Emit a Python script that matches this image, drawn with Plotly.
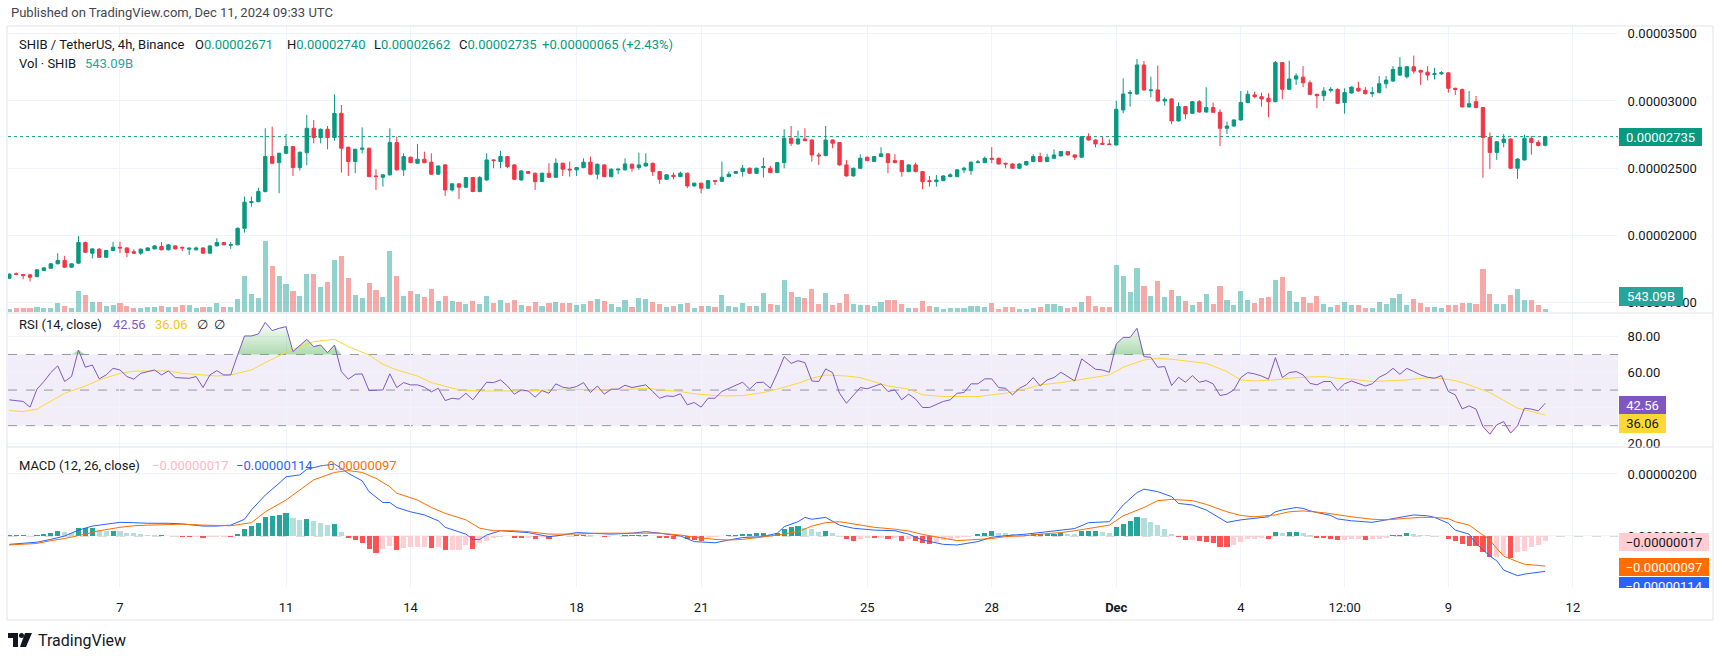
import numpy as np
import pandas as pd
import plotly.graph_objects as go

W, H = 1721, 656
U = 1e-8                     # prices / MACD values below are in units of 1e-8 USDT
FONT = "Roboto"

# ---------------- data (4h candles, SHIB/USDT) ----------------
candle_start = "2024-11-04 08:00"

opens = [
    1683,1716,1710,1708,1695,1740,1757,1790,1815,1765,
    1795,1948,1869,1899,1839,1889,1913,1908,1880,1869,
    1889,1901,1918,1894,1923,1913,1899,1894,1908,1869,
    1923,1948,1928,1931,2054,2245,2252,2327,2587,2542,
    2611,2661,2505,2616,2797,2728,2790,2728,2908,2656,
    2550,2641,2649,2443,2433,2451,2691,2488,2582,2537,
    2567,2545,2456,2525,2339,2384,2359,2431,2327,2413,
    2562,2550,2587,2525,2413,2475,2463,2401,2463,2433,
    2537,2493,2488,2505,2545,2456,2525,2438,2488,2488,
    2530,2505,2517,2537,2475,2418,2448,2438,2463,2369,
    2389,2352,2408,2403,2438,2463,2475,2500,2463,2505,
    2500,2468,2542,2723,2681,2718,2710,2599,2594,2710,
    2691,2525,2443,2500,2582,2550,2587,2607,2557,2557,
    2475,2525,2475,2408,2401,2408,2438,2438,2488,2483,
    2542,2542,2574,2574,2537,2532,2500,2525,2550,2587,
    2550,2574,2592,2624,2599,2582,2735,2710,2686,2681,
    2673,2933,3057,3052,3267,3077,3082,3000,3015,2852,
    2958,2908,2995,2918,2951,2916,2797,2814,2859,2988,
    3045,3032,3020,2995,3285,3087,3163,3177,3135,3049,
    3039,3079,3086,2988,3059,3094,3079,3054,3062,3128,
    3148,3192,3180,3254,3227,3214,3197,3202,3209,3094,
    3086,2956,2995,2951,2729,2618,2692,2717,2500,2562,
    2722,2692,2671]

highs = [
    1720,1725,1715,1715,1750,1765,1795,1870,1849,1795,
    1997,1955,1906,1906,1893,1953,1955,1912,1898,1903,
    1913,1930,1951,1936,1928,1916,1911,1918,1912,1927,
    1980,1953,1953,2060,2290,2290,2356,2797,2809,2616,
    2755,2666,2624,2896,2858,2795,2814,3049,2970,2660,
    2645,2804,2653,2492,2455,2797,2735,2611,2586,2680,
    2623,2611,2522,2530,2389,2389,2436,2436,2443,2611,
    2567,2629,2592,2530,2485,2480,2468,2468,2537,2574,
    2542,2550,2510,2574,2587,2535,2530,2498,2498,2574,
    2535,2616,2611,2542,2480,2455,2468,2475,2468,2394,
    2394,2413,2413,2550,2475,2480,2525,2505,2505,2579,
    2517,2547,2790,2814,2780,2797,2715,2616,2814,2715,
    2695,2562,2505,2604,2587,2592,2656,2612,2604,2562,
    2530,2542,2480,2443,2450,2448,2463,2493,2512,2550,
    2562,2587,2656,2579,2542,2537,2537,2555,2604,2616,
    2607,2641,2629,2629,2604,2740,2760,2715,2735,2715,
    3002,3168,3082,3312,3297,3181,3262,3027,3020,2990,
    2963,3000,3007,3102,2988,2938,2847,2864,3074,3077,
    3069,3062,3057,3297,3290,3299,3205,3259,3153,3054,
    3103,3103,3094,3094,3108,3143,3103,3103,3185,3185,
    3259,3325,3259,3337,3232,3259,3246,3222,3214,3099,
    3091,3074,3037,2956,2766,2702,2754,2722,2574,2749,
    2741,2709,2740]

lows = [
    1678,1705,1676,1659,1690,1738,1755,1788,1760,1760,
    1790,1870,1831,1835,1835,1885,1869,1839,1865,1856,
    1885,1898,1890,1890,1897,1884,1856,1890,1865,1865,
    1920,1928,1901,1928,2022,2215,2248,2320,2532,2314,
    2606,2443,2483,2522,2685,2685,2641,2705,2468,2443,
    2463,2611,2433,2339,2364,2445,2483,2443,2537,2532,
    2537,2450,2450,2295,2327,2270,2354,2322,2322,2408,
    2500,2500,2500,2413,2408,2458,2339,2396,2428,2428,
    2443,2438,2443,2500,2450,2418,2433,2433,2456,2483,
    2475,2488,2512,2443,2384,2413,2418,2433,2352,2364,
    2314,2347,2376,2398,2433,2458,2438,2458,2458,2431,
    2463,2463,2500,2666,2676,2700,2550,2525,2590,2649,
    2520,2438,2438,2495,2552,2545,2582,2463,2537,2438,
    2470,2470,2344,2364,2364,2403,2433,2433,2463,2451,
    2537,2537,2537,2527,2500,2495,2495,2520,2545,2545,
    2545,2570,2587,2594,2562,2577,2705,2656,2675,2672,
    2668,2908,2958,3047,3077,3027,2995,2965,2827,2847,
    2864,2903,2913,2913,2911,2666,2755,2809,2854,2983,
    3020,2958,2879,2990,3012,3082,3119,3103,3044,2946,
    3000,3062,2978,2906,3054,3069,3049,3030,3057,3094,
    3143,3187,3167,3202,3118,3153,3160,3192,3062,3044,
    2951,2951,2946,2429,2495,2562,2655,2495,2421,2557,
    2601,2662,2662]

closes = [
    1713,1711,1703,1690,1745,1760,1790,1815,1765,1790,
    1948,1876,1901,1839,1889,1913,1908,1874,1869,1899,
    1908,1923,1894,1931,1901,1908,1906,1908,1869,1923,
    1948,1931,1933,2054,2248,2252,2327,2587,2537,2611,
    2661,2505,2619,2797,2728,2790,2728,2908,2649,2550,
    2641,2649,2438,2438,2451,2691,2488,2587,2542,2567,
    2542,2456,2517,2339,2384,2359,2431,2327,2431,2562,
    2557,2587,2512,2418,2480,2463,2401,2463,2433,2537,
    2493,2488,2505,2545,2456,2530,2438,2493,2493,2532,
    2500,2525,2537,2475,2418,2451,2438,2463,2369,2389,
    2352,2408,2403,2433,2456,2475,2500,2463,2500,2512,
    2468,2542,2723,2686,2718,2705,2599,2592,2710,2686,
    2525,2443,2500,2574,2557,2587,2607,2542,2542,2475,
    2525,2475,2401,2401,2413,2443,2451,2488,2500,2545,
    2547,2574,2567,2532,2532,2500,2532,2550,2587,2550,
    2582,2599,2624,2599,2582,2735,2710,2681,2678,2676,
    2938,3052,3062,3267,3082,3082,3000,3012,2852,2958,
    2904,2995,2918,2951,2916,2797,2814,2859,2988,3050,
    3032,3015,2995,3285,3087,3163,3186,3135,3049,3039,
    3074,3086,2983,3062,3103,3074,3054,3062,3128,3155,
    3234,3251,3254,3222,3214,3192,3202,3209,3094,3086,
    2956,2980,2951,2729,2618,2697,2717,2500,2569,2722,
    2692,2670,2735]

volume_b = [   # billions of SHIB
    540,648,648,648,810,648,648,1512,972,648,
    3402,2808,1620,1620,972,1080,1512,972,648,648,
    810,810,972,810,810,1188,1188,648,810,810,
    1512,810,810,2160,5832,2970,2322,11340,7452,5832,
    4428,3402,2592,6048,6048,4050,4752,8370,8964,5508,
    2808,2322,4590,3510,2430,9828,5832,2592,3348,2970,
    2430,3672,1728,2592,1836,1620,1242,1782,1242,2592,
    1512,1890,1458,1890,1080,918,1620,972,1458,1620,
    1458,1458,1080,1242,1728,2052,1728,1242,810,1890,
    810,2268,2052,1620,1242,810,972,1242,1458,648,
    918,918,810,2700,918,810,1458,918,918,3078,
    1242,1080,5130,3240,2430,2268,3672,1242,3078,1080,
    1512,2916,1242,1080,1080,972,1620,1890,1890,1296,
    648,648,1728,918,756,540,648,648,648,918,
    918,810,1458,486,810,810,432,432,648,810,
    1242,1242,972,648,810,1620,2592,972,810,810,
    7560,5778,3186,7128,4212,2592,4968,2430,3510,2592,
    1728,1080,1620,2916,1296,4212,1944,1080,3348,1890,
    1404,2268,2430,5130,5616,3348,1620,2484,1512,2592,
    1242,810,1134,1674,1080,1080,594,702,1620,1242,
    2322,2970,1080,2160,1512,864,864,594,1134,1080,
    1512,1512,1350,6912,2862,1350,1350,2700,3780,1890,
    1890,1188,543.09]

rsi = [
    44.5,44.1,43.6,40.4,50.5,54.8,59.8,63.6,54.8,57.6,
    72.5,62.8,64.1,56.3,58.5,62.2,61.3,57.6,56.1,59.4,
    60.4,61.3,58.5,60.7,57.0,56.6,56.6,57.6,51.4,58.5,
    60.9,58.5,58.5,69.7,80.4,80.4,81.5,88.0,83.4,84.7,
    85.6,71.6,75.3,78.5,74.4,75.3,71.0,75.3,60.4,56.1,
    58.9,59.1,49.7,49.7,50.1,59.1,51.4,54.2,52.9,52.9,
    51.6,49.0,51.0,44.1,45.4,44.9,48.2,44.5,49.2,54.4,
    54.2,55.7,52.3,47.7,50.1,49.5,46.0,49.7,48.2,53.5,
    51.6,51.0,52.0,54.2,48.6,52.3,47.7,50.5,50.5,52.7,
    51.4,52.3,52.9,49.2,45.4,46.7,46.4,47.9,41.7,43.0,
    40.4,45.4,45.4,49.2,51.0,52.9,54.4,50.5,54.2,54.4,
    51.0,59.4,68.8,65.0,66.5,65.4,55.1,54.8,61.9,59.8,
    48.2,42.6,46.7,51.4,50.7,52.3,53.5,49.2,50.1,44.5,
    47.7,44.9,40.2,40.2,41.7,43.6,44.5,48.2,48.6,53.5,
    53.5,56.3,56.3,51.4,51.0,47.3,51.0,52.9,57.0,52.3,
    55.7,57.0,60.0,57.6,55.1,67.5,64.5,61.7,61.3,60.0,
    75.9,79.6,79.6,84.7,68.8,68.4,62.8,63.2,52.5,57.2,
    54.4,58.1,54.4,55.3,53.5,46.9,47.7,50.1,57.0,59.8,
    59.1,57.9,56.1,68.2,57.0,59.8,60.4,58.5,53.8,52.9,
    54.8,54.8,49.7,53.5,55.1,53.8,52.3,53.5,57.2,59.1,
    62.2,58.9,62.2,60.4,58.5,57.2,56.6,58.1,49.2,47.3,
    39.4,41.1,39.3,29.5,25.2,30.5,32.3,25.8,29.9,39.8,
    39.3,38.3,42.56]

# RSI moving average, read at these candle indices
rsi_ma_idx = [0,2,4,6,8,11,13,16,18,20,23,25,28,30,32,35,37,40,42,44,47,49,52,54,56,59,61,
              63,65,68,70,75,80,85,90,92,94,97,99,102,104,106,109,111,114,116,118,121,123,
              125,127,130,132,135,137,140,142,144,147,149,152,154,156,159,161,164,166,168,171,
              173,176,178,180,183,185,187,190,192,194,197,199,202,204,206,209,211,214,216,218,222]
rsi_ma = [38.5,37.9,39.3,43.6,48.2,52.3,55.7,59.4,60.6,60.7,60.7,59.4,58.5,57.9,58.5,61.3,65.4,
          71.2,74.4,77.2,78.5,74.4,69.7,64.5,61.3,57.9,54.2,
          52.0,50.1,49.5,49.5,49.5,50.5,50.1,50.5,51.0,50.1,49.2,47.9,46.9,46.7,46.9,48.6,50.5,
          53.8,56.6,58.5,57.9,57.0,
          54.8,52.3,50.5,47.3,46.4,46.4,46.4,47.3,48.2,50.7,52.9,54.2,55.3,56.6,58.5,62.8,66.9,
          67.9,67.3,66.0,65.0,60.4,55.7,55.1,55.7,56.6,57.2,57.6,56.6,56.1,54.8,55.1,55.7,56.6,
          57.0,55.3,52.9,48.6,44.1,39.8,36.06]

# MACD line (x1e-8), read at these candle indices
macd_idx = [0,2,4,6,8,10,12,13,16,18,20,23,25,28,30,32,34,35,37,39,40,42,43,45,47,48,49,51,52,
            54,55,56,58,60,62,63,65,66,67,68,69,71,73,75,78,80,82,85,87,90,92,94,97,99,102,104,
            106,109,111,112,114,115,116,118,120,122,124,125,128,130,132,135,137,140,142,144,147,
            149,152,154,156,159,160,161,163,164,166,168,169,171,173,175,176,178,181,182,183,184,
            186,187,188,190,191,192,194,197,199,202,203,205,206,208,209,211,212,214,215,216,218,
            219,220,222]
macd_val = [-27,-24,-20,-11,0,19,32,35,44,43,41,41,39,32,32,35,54,84,132,170,191,197,215,226,232,
            218,202,178,143,108,108,92,78,68,49,28,14,6,-11,-11,3,17,14,11,-2,3,11,9,6,9,14,9,0,
            -18,-22,-13,-5,-2,9,30,46,60,54,60,35,25,22,19,17,6,-13,-27,-29,-18,-4,1,6,11,19,24,
            43,46,73,100,140,151,143,127,105,100,84,57,44,52,60,62,78,84,92,89,81,71,66,55,49,44,
            52,62,68,65,60,41,19,6,-24,-65,-80,-110,-128,-123,-120,-114]

# Signal line (x1e-8)
signal_idx = [0,4,6,8,11,13,16,18,20,23,25,28,30,32,35,37,40,42,44,47,49,51,53,55,56,59,61,63,66,
              68,70,73,75,78,80,82,85,87,90,92,94,97,99,102,104,106,109,111,114,116,118,120,122,
              124,125,128,130,132,135,137,140,142,144,147,149,152,154,156,159,161,164,166,168,171,
              173,176,178,180,183,185,187,190,192,194,197,199,202,204,206,208,209,211,212,214,215,
              216,218,219,222]
signal_val = [-29,-24,-15,-8,6,17,28,33,35,38,38,35,33,33,43,78,116,148,181,205,211,205,186,159,
              138,116,92,73,52,25,17,17,14,6,6,6,9,9,9,11,9,3,-4,-11,-13,-11,-4,3,14,32,43,46,39,
              32,28,22,16,5,-8,-15,-11,-8,-2,1,6,11,17,25,35,65,92,114,118,114,102,78,66,62,68,78,
              81,75,68,62,54,52,57,60,60,56,46,35,19,-13,-40,-65,-83,-91,-97]

hist = [   # MACD histogram (x1e-8), one per candle
    2,2,2,1,2,5,11,17,12,11,
    25,25,25,19,17,17,16,11,9,6,
    4,2,2,1,0,-2,-3,-3,-6,-3,
    -2,-2,-3,6,23,33,43,60,65,67,
    73,57,52,56,49,43,34,38,14,-5,
    -13,-22,-43,-56,-43,-32,-45,-40,-37,-37,
    -34,-40,-34,-45,-45,-45,-29,-43,-24,-15,
    -8,0,1,-5,-6,-6,-9,-4,-9,-2,
    0,1,2,3,2,1,-2,1,1,2,
    2,2,3,0,-5,-6,-9,-2,-11,-13,
    -16,-5,-3,-1,2,4,5,5,10,11,
    8,9,22,28,32,25,23,14,17,11,
    1,-11,-15,-11,-6,-8,-8,-11,-8,-16,
    -9,-15,-22,-26,-18,-13,-10,-5,-3,1,
    5,11,15,11,9,6,2,4,5,6,
    6,8,10,8,6,17,17,17,12,9,
    28,39,49,60,57,46,35,23,6,-4,
    -13,-13,-15,-20,-24,-34,-37,-29,-20,-11,
    -9,-6,-9,14,9,14,14,9,3,-5,
    -8,-9,-13,-13,-11,-11,-13,-11,-9,-6,
    3,4,9,6,4,2,1,0,-9,-15,
    -27,-31,-32,-51,-67,-67,-61,-72,-51,-47,
    -37,-29,-17]

x_tick_dates = ["2024-11-07", "2024-11-11", "2024-11-14", "2024-11-18", "2024-11-21",
                "2024-11-25", "2024-11-28", "2024-12-01", "2024-12-04", "2024-12-06 12:00",
                "2024-12-09", "2024-12-12"]
x_tick_text = ["7", "11", "14", "18", "21", "25", "28", "<b>Dec</b>", "4", "12:00", "9", "12"]
price_ticks = [1500, 2000, 2500, 3000, 3500]
rsi_ticks = [20, 40, 60, 80]
macd_ticks = [0, 200]

n = len(closes)
assert len(opens) == len(highs) == len(lows) == n == len(volume_b) == len(rsi) == len(hist)
assert len(rsi_ma_idx) == len(rsi_ma)
assert len(macd_idx) == len(macd_val)
assert len(signal_idx) == len(signal_val)

# ---------------- styling / geometry ----------------
GREEN, RED = "#089981", "#F23645"
GRID = "#F0F3FA"
TXT = "#131722"

def pxx(x):
    return x / W

def pxy(y):
    return 1 - y / H

XDOM = [pxx(8), pxx(1618)]
MAIN_DOM = [pxy(312), pxy(26)]
RSI_DOM = [pxy(447), pxy(313)]
MACD_DOM = [pxy(587), pxy(447)]

times = pd.date_range(candle_start, periods=n, freq="4h")
o = np.array(opens) * U
h_ = np.array(highs) * U
l_ = np.array(lows) * U
c = np.array(closes) * U
up = np.array(closes) >= np.array(opens)
bar_w = 4 * 3600 * 1000 * 0.74

fig = go.Figure()

# volume (base axis y2)
fig.add_trace(go.Bar(
    x=times, y=volume_b, xaxis="x2", yaxis="y2", width=bar_w,
    marker=dict(color=["rgba(38,166,154,0.5)" if u else "rgba(239,83,80,0.5)" for u in up],
                line=dict(width=0)),
    hoverinfo="skip"))

# candles (price axis y5 overlaying y2)
fig.add_trace(go.Candlestick(
    x=times, open=o, high=h_, low=l_, close=c, xaxis="x2", yaxis="y5",
    increasing=dict(line=dict(color=GREEN, width=1), fillcolor=GREEN),
    decreasing=dict(line=dict(color=RED, width=1), fillcolor=RED),
    whiskerwidth=0, hoverinfo="skip"))

# RSI overbought / oversold fills
rsi_arr = np.array(rsi)
fig.add_trace(go.Scatter(x=times, y=[70] * n, xaxis="x3", yaxis="y3", mode="lines",
                         line=dict(width=0), hoverinfo="skip"))
fig.add_trace(go.Scatter(x=times, y=np.maximum(rsi_arr, 70), xaxis="x3", yaxis="y3", mode="lines",
                         line=dict(width=0), fill="tonexty",
                         fillgradient=dict(type="vertical",
                                           colorscale=[[0, "rgba(76,175,80,0.45)"],
                                                       [1, "rgba(76,175,80,0.02)"]]),
                         hoverinfo="skip"))
fig.add_trace(go.Scatter(x=times, y=[30] * n, xaxis="x3", yaxis="y3", mode="lines",
                         line=dict(width=0), hoverinfo="skip"))
fig.add_trace(go.Scatter(x=times, y=np.minimum(rsi_arr, 30), xaxis="x3", yaxis="y3", mode="lines",
                         line=dict(width=0), fill="tonexty", fillcolor="rgba(242,54,69,0.12)",
                         hoverinfo="skip"))
# RSI MA and RSI
fig.add_trace(go.Scatter(x=[times[i] for i in rsi_ma_idx], y=rsi_ma, xaxis="x3", yaxis="y3",
                         mode="lines", line=dict(color="#FDD835", width=1), hoverinfo="skip"))
fig.add_trace(go.Scatter(x=times, y=rsi, xaxis="x3", yaxis="y3", mode="lines",
                         line=dict(color="#7E57C2", width=1), hoverinfo="skip"))

# MACD histogram
hcol = []
prev = 0
for v in hist:
    if v >= 0:
        hcol.append("#26A69A" if v >= prev else "#B2DFDB")
    else:
        hcol.append("#FF5252" if v < prev else "#FFCDD2")
    prev = v
fig.add_trace(go.Bar(x=times, y=np.array(hist) * U, xaxis="x", yaxis="y4", width=bar_w,
                     marker=dict(color=hcol, line=dict(width=0)), hoverinfo="skip"))
fig.add_trace(go.Scatter(x=[times[i] for i in macd_idx], y=np.array(macd_val) * U, xaxis="x",
                         yaxis="y4", mode="lines", line=dict(color="#2962FF", width=1),
                         hoverinfo="skip"))
fig.add_trace(go.Scatter(x=[times[i] for i in signal_idx], y=np.array(signal_val) * U, xaxis="x",
                         yaxis="y4", mode="lines", line=dict(color="#FF6D00", width=1),
                         hoverinfo="skip"))

xrange_ = ["2024-11-04 07:15", "2024-12-13 02:05"]
xcommon = dict(domain=XDOM, range=xrange_, type="date", tickvals=x_tick_dates, ticktext=x_tick_text,
               showgrid=True, gridcolor=GRID, gridwidth=1, zeroline=False, showline=False,
               automargin=False, rangeslider=dict(visible=False), fixedrange=True)
ycommon = dict(side="right", showgrid=True, gridcolor=GRID, zeroline=False, showline=False,
               automargin=False, ticks="outside", ticklen=6, tickcolor="rgba(0,0,0,0)",
               tickfont=dict(family=FONT, size=13, color=TXT), fixedrange=True)

layout = dict(
    width=W, height=H, autosize=False,
    margin=dict(l=0, r=0, t=0, b=0, pad=0),
    paper_bgcolor="white", plot_bgcolor="white",
    showlegend=False, hovermode=False, bargap=0,
    xaxis=dict(**xcommon, anchor="y4", ticks="outside", ticklen=8, tickcolor="rgba(0,0,0,0)",
               tickfont=dict(family=FONT, size=13, color=TXT)),
    xaxis2=dict(**xcommon, anchor="y2", matches="x", showticklabels=False),
    xaxis3=dict(**xcommon, anchor="y3", matches="x", showticklabels=False),
    yaxis2=dict(domain=MAIN_DOM, range=[0, 46000], visible=False, anchor="x2", fixedrange=True),
    yaxis5=dict(**ycommon, overlaying="y2", anchor="x2", range=[1432 * U, 3557 * U],
                tickvals=[v * U for v in price_ticks],
                ticktext=[f"{v * U:.8f}" for v in price_ticks]),
    yaxis3=dict(**ycommon, domain=RSI_DOM, anchor="x3", range=[18.0, 93.3],
                tickvals=rsi_ticks, ticktext=[f"{v:.2f}" for v in rsi_ticks]),
    yaxis4=dict(**ycommon, domain=MACD_DOM, anchor="x", range=[-164.5 * U, 287 * U],
                tickvals=[v * U for v in macd_ticks],
                ticktext=[f"{v * U:.8f}" for v in macd_ticks]),
)
fig.update_layout(**layout)

# ---------------- shapes ----------------
shapes = []
# RSI band and guide lines
shapes.append(dict(type="rect", xref="x3 domain", yref="y3", x0=0, x1=1, y0=30, y1=70,
                   fillcolor="rgba(126,87,194,0.1)", line=dict(width=0), layer="below"))
for lv in (70, 50, 30):
    shapes.append(dict(type="line", xref="x3 domain", yref="y3", x0=0, x1=1, y0=lv, y1=lv,
                       line=dict(color="#9598A1", width=1, dash="dash"), layer="below"))
# MACD zero line
shapes.append(dict(type="line", xref="x domain", yref="y4", x0=0, x1=1, y0=0, y1=0,
                   line=dict(color="#B2B5BE", width=1, dash="dash"), layer="below"))
# last price line
shapes.append(dict(type="line", xref="x2 domain", yref="y5", x0=0, x1=1,
                   y0=closes[-1] * U, y1=closes[-1] * U,
                   line=dict(color=GREEN, width=1, dash="dot"), layer="below"))
# borders and pane separators
shapes.append(dict(type="rect", xref="paper", yref="paper", x0=pxx(7), x1=pxx(1713),
                   y0=pxy(620), y1=pxy(26), line=dict(color="#E0E3EB", width=1)))
for yy in (313, 447):
    shapes.append(dict(type="line", xref="paper", yref="paper", x0=pxx(7), x1=pxx(1713),
                       y0=pxy(yy), y1=pxy(yy), line=dict(color="#E0E3EB", width=1)))

# TradingView logo
def path_from(points):
    s = ""
    for k, (x, y) in enumerate(points):
        s += ("M" if k == 0 else "L") + f"{pxx(x):.5f},{pxy(y):.5f} "
    return s + "Z"

shapes.append(dict(type="path", xref="paper", yref="paper",
                   path=path_from([(8, 633), (18, 633), (18, 647), (13, 647), (13, 638), (8, 638)]),
                   fillcolor=TXT, line=dict(width=0)))
shapes.append(dict(type="circle", xref="paper", yref="paper", x0=pxx(19), x1=pxx(24),
                   y0=pxy(638), y1=pxy(633), fillcolor=TXT, line=dict(width=0)))
shapes.append(dict(type="path", xref="paper", yref="paper",
                   path=path_from([(25, 633), (32, 633), (26, 647), (20, 647)]),
                   fillcolor=TXT, line=dict(width=0)))
fig.update_layout(shapes=shapes)

# ---------------- annotations ----------------
ann = []

def txt(x, y, s, color=TXT, size=13, anchor="left"):
    ann.append(dict(xref="paper", yref="paper", x=pxx(x), y=pxy(y), text=s, showarrow=False,
                    xanchor=anchor, yanchor="middle",
                    font=dict(family=FONT, size=size, color=color)))

def box(x0, x1, y0, y1, s, bg, fg=TXT):
    ann.append(dict(xref="paper", yref="paper", x=pxx(x0), y=pxy(y0), xanchor="left",
                    yanchor="top", width=x1 - x0, height=y1 - y0, bgcolor=bg, borderpad=0,
                    borderwidth=0, text=s, showarrow=False, align="center", valign="middle",
                    font=dict(family=FONT, size=13, color=fg)))

txt(9, 13, "Published on TradingView.com, Dec 11, 2024 09:33 UTC", color="#434651")
txt(17, 44, "SHIB / TetherUS, 4h, Binance")
for xx, letter, val in [(193, "O", opens[-1]), (285, "H", highs[-1]), (372, "L", lows[-1]),
                        (457, "C", closes[-1])]:
    txt(xx, 44, f"{letter}<span style='color:{GREEN}'>{val * U:.8f}</span>")
chg = closes[-1] - closes[-2]
txt(540, 44, f"+{chg * U:.8f} (+{chg / closes[-2] * 100:.2f}%)", color=GREEN)
txt(17, 63, "Vol · SHIB")
txt(83, 63, "543.09B", color="#26A69A")

txt(17, 325, "RSI (14, close)")
txt(111, 325, f"{rsi[-1]:.2f}", color="#7E57C2")
txt(153, 325, f"{rsi_ma[-1]:.2f}", color="#F5C518")
txt(195, 325, "∅")
txt(212, 325, "∅")

txt(17, 465, "MACD (12, 26, close)")
txt(150, 465, f"−{abs(hist[-1]) * U:.8f}", color="#FFB8C0")
txt(234, 465, f"−{abs(macd_val[-1]) * U:.8f}", color="#2962FF")
txt(318, 465, f"−{abs(signal_val[-1]) * U:.8f}", color="#FF6D00")

# right-axis value labels
box(1619, 1702, 128, 146, f"{closes[-1] * U:.8f}", GREEN, "white")
box(1619, 1683, 287, 306, "543.09B", "#26A69A", "white")
box(1619, 1666, 396, 414, f"{rsi[-1]:.2f}", "#7E57C2", "white")
box(1619, 1666, 414, 433, f"{rsi_ma[-1]:.2f}", "#FDD835", TXT)
box(1619, 1709, 533, 551, f"−{abs(hist[-1]) * U:.8f}", "#FFCDD2", TXT)
box(1619, 1709, 558, 576, f"−{abs(signal_val[-1]) * U:.8f}", "#FF6D00", "white")
box(1619, 1709, 577, 595, f"−{abs(macd_val[-1]) * U:.8f}", "#2962FF", "white")
# pane clipping of labels at the pane edges
box(1617, 1712, 448, 457, "", "white")
box(1617, 1712, 588, 598, "", "white")

txt(36, 640, "TradingView", size=16)
fig.update_layout(annotations=ann)

fig.write_html("out.html", config=dict(displayModeBar=False, staticPlot=True),
               post_script="document.body.style.margin='0';")
